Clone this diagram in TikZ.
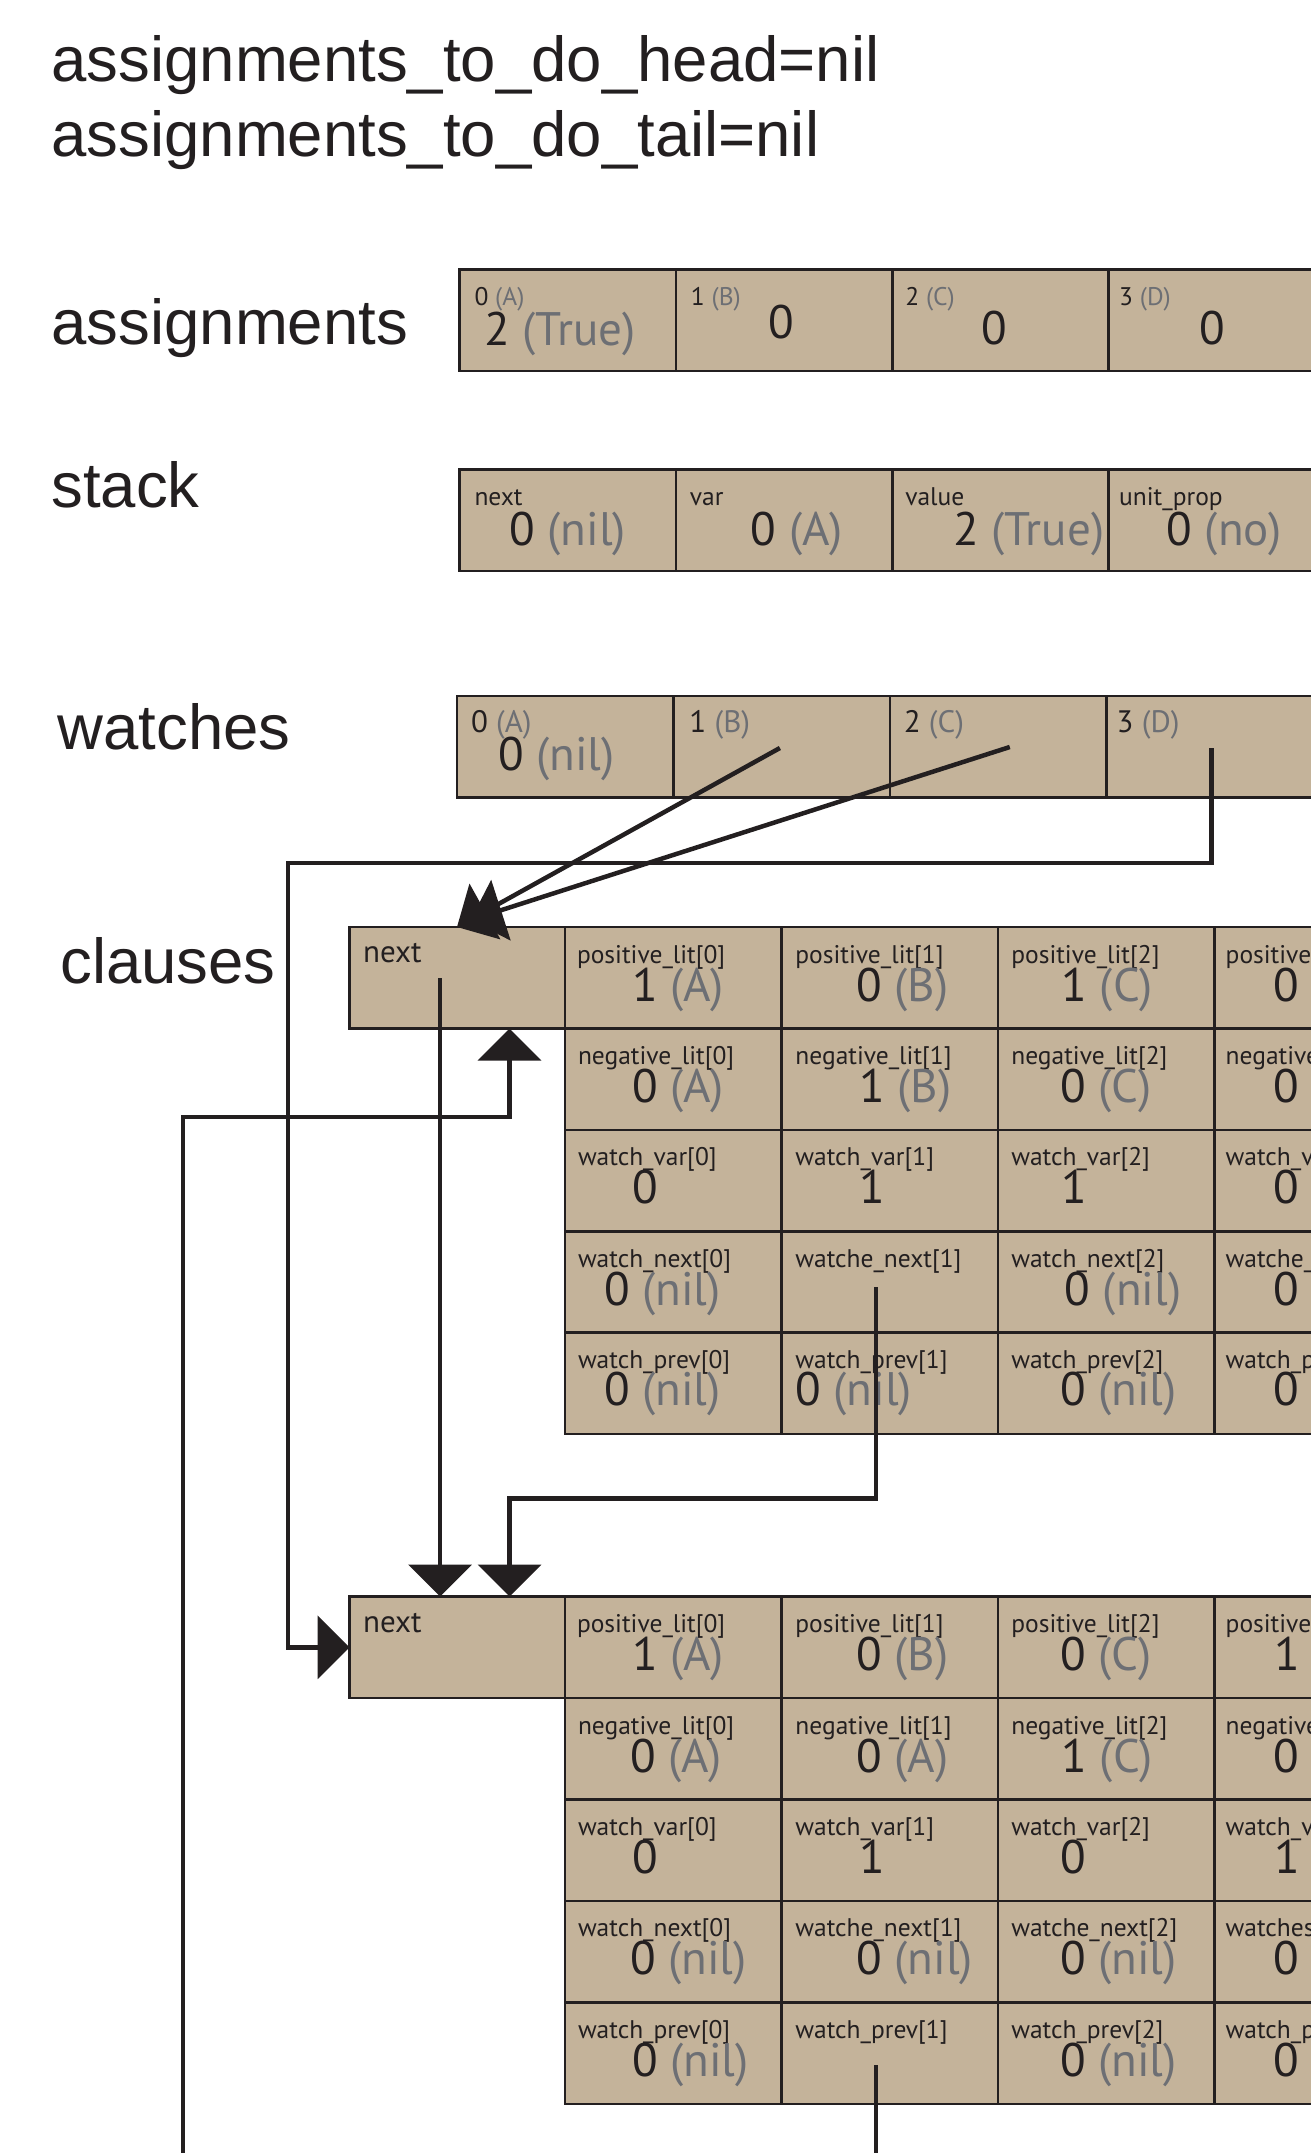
\documentclass[tikz,border=0pt]{standalone}
\usepackage{fontspec}
\setmainfont{Liberation Sans}
\newfontfamily\cellfont{PT Sans}
\usetikzlibrary{calc,arrows.meta}
\definecolor{ink}{HTML}{231F20}
\definecolor{tanfill}{HTML}{C4B39A}
\definecolor{txtgray}{HTML}{6D6F74}
\newcommand\gy[1]{\textcolor{txtgray}{#1}}
\tikzset{
  cellbox/.style={rectangle, anchor=north west, minimum width=216.4pt, minimum height=101.5pt,
    inner sep=0pt, outer sep=0pt, fill=tanfill, draw=ink, line width=2.6pt},
  lbl/.style={anchor=base west, inner sep=0pt, outer sep=0pt, text=ink,
    font=\cellfont\fontsize{25.5}{25.5}\selectfont},
  lblbig/.style={lbl, font=\cellfont\fontsize{31}{31}\selectfont},
  val/.style={anchor=base west, inner sep=0pt, outer sep=0pt, text=ink,
    font=\cellfont\fontsize{47}{47}\selectfont},
  title/.style={anchor=base west, inner sep=0pt, outer sep=0pt, text=ink,
    font=\fontsize{63.5}{63.5}\selectfont},
  conn/.style={draw=ink, line width=4.5pt},
  arr/.style={conn, -{Triangle[length=32pt,width=63pt]}},
}
% name, x, y, label style, label, label dx, value, value dx, value baseline
\newcommand\mycell[9]{%
  \node[cellbox] (#1) at (#2,#3) {};
  \node[#4] (#1l) at ($(#1.north west)+(#6,36)$) {#5};
  \node[val] (#1v) at ($(#1.north west)+(#8,#9)$) {#7};
}
\begin{document}
\begin{tikzpicture}[x=1pt,y=-1pt]
\useasboundingbox (0,0) rectangle (1311,2153);
\clip (0,0) rectangle (1311,2153);

% titles and row labels
\node[title] (t1) at (51.5,81.7) {assignments\_to\_do\_head=nil};
\node[title] (t2) at (51.5,156.7) {assignments\_to\_do\_tail=nil};
\node[title] (la) at (51.5,344.6) {assignments};
\node[title] (ls) at (51.5,507.5) {stack};
\node[title] (lw) at (57.7,749.5) {watches};
\node[title] (lc) at (60.4,983) {clauses};

% assignments
\mycell{a0}{459.5}{269.5}{lbl}{0 \gy{(A)}}{15}{2 \gy{(True)}}{25}{75.5}
\mycell{a1}{675.9}{269.5}{lbl}{1 \gy{(B)}}{15}{0}{93}{69}
\mycell{a2}{892.3}{269.5}{lbl}{2 \gy{(C)}}{13}{0}{89}{75}
\mycell{a3}{1108.7}{269.5}{lbl}{3 \gy{(D)}}{10.5}{0}{90.5}{75}

% stack
\mycell{s0}{459.5}{469.5}{lbl}{next}{15}{0 \gy{(nil)}}{50}{75.5}
\mycell{s1}{675.9}{469.5}{lbl}{var}{14}{0 \gy{(A)}}{75}{75.5}
\mycell{s2}{892.3}{469.5}{lbl}{value}{13}{2 \gy{(True)}}{61}{75.5}
\mycell{s3}{1108.7}{469.5}{lbl}{unit\_prop}{10.5}{0 \gy{(no)}}{58}{75.5}

% watches
\mycell{w0}{457}{696}{lblbig}{0 \gy{(A)}}{14}{0 \gy{(nil)}}{41}{74.5}
\mycell{w1}{673.4}{696}{lblbig}{1 \gy{(B)}}{16}{}{0}{74.5}
\mycell{w2}{889.8}{696}{lblbig}{2 \gy{(C)}}{14}{}{0}{74.5}
\mycell{w3}{1106.2}{696}{lblbig}{3 \gy{(D)}}{10.5}{}{0}{74.5}

% clause 1
\node[cellbox, minimum width=215.5pt] (n1) at (349.5,927) {};
\node[lblbig] (n1l) at ($(n1.north west)+(13.7,35.5)$) {next};
\mycell{pa0}{565}{927}{lbl}{positive\_lit[0]}{12}{1 \gy{(A)}}{67}{74}
\mycell{pa1}{781.4}{927}{lbl}{positive\_lit[1]}{14}{0 \gy{(B)}}{75}{74}
\mycell{pa2}{997.8}{927}{lbl}{positive\_lit[2]}{13.5}{1 \gy{(C)}}{64}{74}
\mycell{pa3}{1214.2}{927}{lbl}{positive\_lit[3]}{11.5}{0 \gy{(D)}}{59}{74}
\mycell{na0}{565}{1028.4}{lbl}{negative\_lit[0]}{13}{0 \gy{(A)}}{67}{74}
\mycell{na1}{781.4}{1028.4}{lbl}{negative\_lit[1]}{14}{1 \gy{(B)}}{78}{74}
\mycell{na2}{997.8}{1028.4}{lbl}{negative\_lit[2]}{13.5}{0 \gy{(C)}}{62.5}{74}
\mycell{na3}{1214.2}{1028.4}{lbl}{negative\_lit[3]}{11.5}{0 \gy{(D)}}{59}{74}
\mycell{va0}{565}{1129.8}{lbl}{watch\_var[0]}{13}{0}{67}{74}
\mycell{va1}{781.4}{1129.8}{lbl}{watch\_var[1]}{14}{1}{78}{74}
\mycell{va2}{997.8}{1129.8}{lbl}{watch\_var[2]}{13.5}{1}{64}{74}
\mycell{va3}{1214.2}{1129.8}{lbl}{watch\_var[3]}{11.5}{0}{59}{74}
\mycell{xa0}{565}{1231.2}{lbl}{watch\_next[0]}{13}{0 \gy{(nil)}}{39}{74}
\mycell{xa1}{781.4}{1231.2}{lbl}{watche\_next[1]}{14}{}{0}{74}
\mycell{xa2}{997.8}{1231.2}{lbl}{watch\_next[2]}{13.5}{0 \gy{(nil)}}{67}{74}
\mycell{xa3}{1214.2}{1231.2}{lbl}{watche\_next[3]}{11.5}{0 \gy{(nil)}}{59}{74}
\mycell{ya0}{565}{1332.6}{lbl}{watch\_prev[0]}{13}{0 \gy{(nil)}}{39}{73}
\mycell{ya1}{781.4}{1332.6}{lbl}{watch\_prev[1]}{14}{0 \gy{(nil)}}{14}{73}
\mycell{ya2}{997.8}{1332.6}{lbl}{watch\_prev[2]}{13.5}{0 \gy{(nil)}}{62.5}{73}
\mycell{ya3}{1214.2}{1332.6}{lbl}{watch\_prev[3]}{11.5}{0 \gy{(nil)}}{59}{73}

% clause 2
\node[cellbox, minimum width=215.5pt] (n2) at (349.5,1596.5) {};
\node[lblbig] (n2l) at ($(n2.north west)+(13.7,35.5)$) {next};
\mycell{pb0}{565}{1596.5}{lbl}{positive\_lit[0]}{12}{1 \gy{(A)}}{67}{74}
\mycell{pb1}{781.4}{1596.5}{lbl}{positive\_lit[1]}{14}{0 \gy{(B)}}{75}{74}
\mycell{pb2}{997.8}{1596.5}{lbl}{positive\_lit[2]}{13.5}{0 \gy{(C)}}{62.5}{74}
\mycell{pb3}{1214.2}{1596.5}{lbl}{positive\_lit[3]}{11.5}{1 \gy{(D)}}{60}{74}
\mycell{nb0}{565}{1698}{lbl}{negative\_lit[0]}{13}{0 \gy{(A)}}{65}{74}
\mycell{nb1}{781.4}{1698}{lbl}{negative\_lit[1]}{14}{0 \gy{(A)}}{75}{74}
\mycell{nb2}{997.8}{1698}{lbl}{negative\_lit[2]}{13.5}{1 \gy{(C)}}{64}{74}
\mycell{nb3}{1214.2}{1698}{lbl}{negative\_lit[3]}{11.5}{0 \gy{(D)}}{59}{74}
\mycell{vb0}{565}{1799.4}{lbl}{watch\_var[0]}{13}{0}{67}{74}
\mycell{vb1}{781.4}{1799.4}{lbl}{watch\_var[1]}{14}{1}{78}{74}
\mycell{vb2}{997.8}{1799.4}{lbl}{watch\_var[2]}{13.5}{0}{62.5}{74}
\mycell{vb3}{1214.2}{1799.4}{lbl}{watch\_var[3]}{11.5}{1}{60}{74}
\mycell{xb0}{565}{1900.9}{lbl}{watch\_next[0]}{13}{0 \gy{(nil)}}{65}{74}
\mycell{xb1}{781.4}{1900.9}{lbl}{watche\_next[1]}{14}{0 \gy{(nil)}}{75}{74}
\mycell{xb2}{997.8}{1900.9}{lbl}{watche\_next[2]}{13.5}{0 \gy{(nil)}}{62.5}{74}
\mycell{xb3}{1214.2}{1900.9}{lbl}{watches\_next[3]}{11.5}{0 \gy{(nil)}}{59}{74}
\mycell{yb0}{565}{2002.3}{lbl}{watch\_prev[0]}{13}{0 \gy{(nil)}}{67}{74}
\mycell{yb1}{781.4}{2002.3}{lbl}{watch\_prev[1]}{14}{}{0}{74}
\mycell{yb2}{997.8}{2002.3}{lbl}{watch\_prev[2]}{13.5}{0 \gy{(nil)}}{62.5}{74}
\mycell{yb3}{1214.2}{2002.3}{lbl}{watch\_prev[3]}{11.5}{0 \gy{(nil)}}{59}{74}

% connector points
\coordinate (w1p) at ($(w1.north west)+(106.5,52)$);
\coordinate (w2p) at ($(w2.north west)+(120,51)$);
\coordinate (w3p) at ($(w3.north west)+(105.5,52)$);
\coordinate (n1b) at ($(n1.north west)+(107.5,0)$);
\coordinate (n1c) at ($(n1.north west)+(121,-7)$);
\coordinate (dl) at (288,863);
\coordinate (n1p) at ($(n1.north west)+(90.5,51)$);
\coordinate (bl) at (183,2153);
\coordinate (ul) at (183,1117);
\coordinate (n1u) at ($(n1.south west)+(160,0)$);
\coordinate (wn1p) at ($(xa1.north west)+(94.5,56)$);
\coordinate (jn) at (509.5,1498.5);
\coordinate (n2t) at ($(n2.north west)+(160,0)$);
\coordinate (wp2p) at ($(yb1.north west)+(94.5,63)$);

% connectors
\draw[arr] (w1p) -- (n1b);
\draw[arr] (w2p) -- (n1c);
\draw[arr] (w3p) |- (dl) |- (n2.west);
\draw[arr] (n1p) -- (n1p |- n2.north);
\draw[arr] (bl) -- (ul) -| (n1u);
\draw[arr] (wn1p) |- (jn) -- (n2t);
\draw[conn] (wp2p) -- (wp2p |- bl);
\end{tikzpicture}
\end{document}
